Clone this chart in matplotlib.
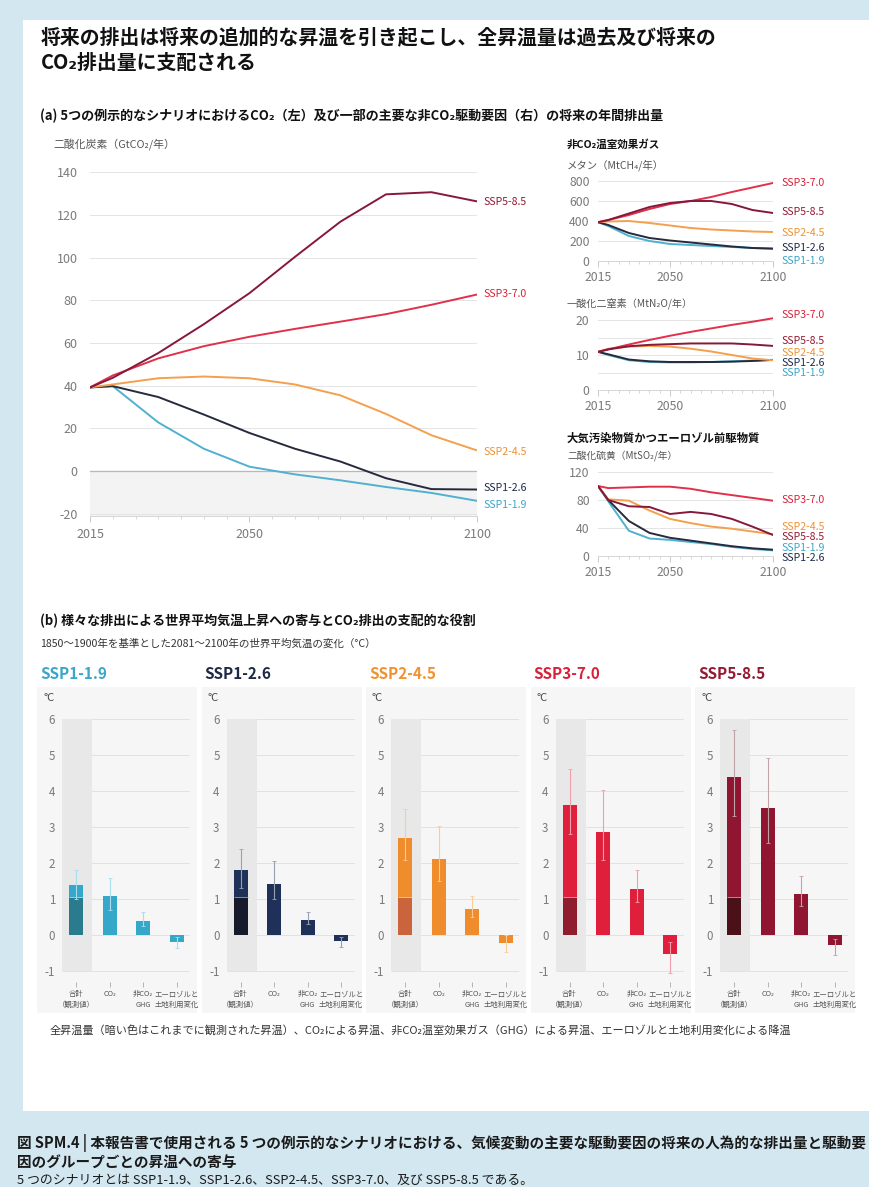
import matplotlib
matplotlib.use("Agg")
import matplotlib.pyplot as plt
from matplotlib.patches import Rectangle
from matplotlib.ticker import MultipleLocator

plt.rcParams['font.family'] = ['Noto Sans CJK JP', 'DejaVu Sans']
plt.rcParams['axes.unicode_minus'] = False

W, H = 869, 1187

# --- data ---
scenarios = ['SSP1-1.9', 'SSP1-2.6', 'SSP2-4.5', 'SSP3-7.0', 'SSP5-8.5']
years = [2015, 2020, 2030, 2040, 2050, 2060, 2070, 2080, 2090, 2100]

co2 = [
    [39.2, 39.8, 22.8, 10.5, 2.1, -1.5, -4.3, -7.4, -10.2, -13.9],
    [39.2, 39.8, 34.7, 26.5, 17.9, 10.5, 4.5, -3.3, -8.4, -8.6],
    [39.2, 40.6, 43.5, 44.3, 43.5, 40.6, 35.5, 26.8, 16.8, 9.7],
    [39.2, 44.8, 52.8, 58.5, 62.9, 66.6, 70.0, 73.5, 77.9, 82.7],
    [39.2, 43.7, 55.3, 68.8, 83.3, 100.3, 116.8, 129.6, 130.6, 126.3],
]
methane = [
    [388, 350, 250, 200, 170, 160, 150, 140, 130, 120],
    [388, 360, 280, 230, 205, 185, 165, 145, 130, 125],
    [388, 395, 400, 380, 355, 330, 315, 305, 295, 290],
    [388, 410, 460, 520, 570, 600, 640, 690, 735, 780],
    [388, 410, 475, 540, 580, 600, 600, 570, 510, 480],
]
n2o = [
    [10.9, 10.0, 8.5, 8.0, 7.9, 7.9, 8.0, 8.2, 8.4, 8.6],
    [10.9, 10.2, 8.7, 8.2, 8.0, 8.0, 8.0, 8.1, 8.3, 8.6],
    [10.9, 11.8, 12.4, 12.6, 12.4, 11.8, 11.0, 10.0, 9.0, 8.5],
    [10.9, 11.6, 13.0, 14.3, 15.5, 16.6, 17.6, 18.6, 19.5, 20.5],
    [10.9, 11.6, 12.5, 12.9, 13.1, 13.3, 13.3, 13.3, 13.0, 12.6],
]
so2 = [
    [100, 78, 36, 25, 23, 20, 17, 13, 10, 8],
    [100, 80, 50, 33, 26, 22, 18, 14, 11, 9],
    [100, 81, 79, 65, 53, 47, 42, 39, 35, 31],
    [100, 97, 98, 99, 99, 96, 91, 87, 83, 79],
    [100, 80, 71, 70, 60, 63, 60, 53, 42, 30],
]

bar_labels = ['合計\n（観測値）', 'CO₂', '非CO₂\nGHG', 'エーロゾルと\n土地利用変化']
observed = 1.07
bar_central = [
    [1.4, 1.08, 0.40, -0.18],
    [1.8, 1.42, 0.42, -0.16],
    [2.7, 2.12, 0.74, -0.22],
    [3.6, 2.85, 1.28, -0.52],
    [4.4, 3.52, 1.15, -0.27],
]
bar_low = [
    [1.0, 0.7, 0.25, -0.37],
    [1.3, 1.0, 0.30, -0.34],
    [2.1, 1.5, 0.50, -0.46],
    [2.8, 2.08, 0.92, -1.06],
    [3.3, 2.55, 0.80, -0.56],
]
bar_high = [
    [1.8, 1.6, 0.63, -0.05],
    [2.4, 2.07, 0.65, -0.05],
    [3.5, 3.03, 1.08, 0.0],
    [4.6, 4.03, 1.82, -0.2],
    [5.7, 4.92, 1.65, -0.1],
]

# --- styles ---
line_colors = ['#4fb1cf', '#262a3c', '#f4a04c', '#e0304a', '#86183a']
title_colors = ['#3aa6c8', '#1e2a45', '#f0922f', '#d9213a', '#931a32']
bar_colors = ['#35a7c9', '#1f3158', '#ef8c2c', '#df1f3b', '#8f1530']
dark_colors = ['#2b7b8e', '#171a2b', '#c9643d', '#8f1d2d', '#4a1119']
err_colors = ['#a9dcec', '#9aa0b4', '#f8cc9c', '#f0a0aa', '#c0a4a8']

fig = plt.figure(figsize=(W / 100, H / 100), dpi=100)
fig.patch.set_facecolor('#d3e7f1')
fig.patches.append(Rectangle((23 / W, 1 - 1111 / H), (W - 23) / W, (1111 - 20) / H,
                             transform=fig.transFigure, facecolor='white', edgecolor='none', zorder=-3))


def ax_px(x0, y0, x1, y1):
    return fig.add_axes([x0 / W, 1 - y1 / H, (x1 - x0) / W, (y1 - y0) / H])


def txt(x, y, s, **kw):
    kw.setdefault('va', 'center')
    return fig.text(x / W, 1 - y / H, s, **kw)


# --- titles ---
txt(41, 38, '将来の排出は将来の追加的な昇温を引き起こし、全昇温量は過去及び将来の',
    fontsize=14.3, fontweight='bold', color='#111111')
txt(41, 62, 'CO₂排出量に支配される', fontsize=14.3, fontweight='bold', color='#111111')
txt(40, 116, '(a) 5つの例示的なシナリオにおけるCO₂（左）及び一部の主要な非CO₂駆動要因（右）の将来の年間排出量',
    fontsize=9.4, fontweight='bold', color='#111111')


def style_line_axes(ax, ylim, yticks, ylabsize):
    ax.set_xlim(2015, 2100)
    ax.set_ylim(*ylim)
    ax.set_yticks(yticks)
    ax.set_xticks([2015, 2050, 2100])
    ax.xaxis.set_minor_locator(MultipleLocator(5))
    for s in ['top', 'right', 'left']:
        ax.spines[s].set_visible(False)
    ax.spines['bottom'].set_color('#d0d0d0')
    ax.spines['bottom'].set_linewidth(0.6)
    ax.grid(axis='y', color='#e4e4e4', linewidth=0.7, zorder=0)
    ax.set_axisbelow(True)
    ax.tick_params(axis='y', length=0, pad=6, labelsize=ylabsize, labelcolor='#7a7a7a')
    ax.tick_params(axis='x', which='major', length=4, width=0.6, color='#c0c0c0',
                   pad=3, labelsize=ylabsize, labelcolor='#7a7a7a')
    ax.tick_params(axis='x', which='minor', length=2, width=0.5, color='#c8c8c8')
    ax.set_facecolor('none')


def draw_lines(ax, series, label_pos, fs, dx):
    # label_pos: y position (data units) of each scenario's end label, in scenario order
    for i, name in enumerate(scenarios):
        ax.plot(years, series[i], color=line_colors[i], lw=1.4, zorder=3, solid_capstyle='round')
        ax.annotate(name, xy=(1, label_pos[i]), xycoords=('axes fraction', 'data'),
                    xytext=(dx, 0), textcoords='offset points', va='center', ha='left',
                    fontsize=fs, color=title_colors[i], annotation_clip=False)


# --- main CO2 panel ---
ax = ax_px(90, 170, 477, 516)
style_line_axes(ax, (-21, 141), range(-20, 141, 20), 9)
ax.tick_params(axis='y', pad=9)
ax.tick_params(axis='x', pad=5)
ax.axhspan(-21, 0, color='#f3f3f3', zorder=0.5)
ax.axhline(0, color='#b8b8b8', lw=0.9, zorder=1)
draw_lines(ax, co2, [-16, -8, 9, 83, 126], 7.6, 5)
txt(53, 145, '二酸化炭素（GtCO₂/年）', fontsize=7.8, color='#555555')

# --- methane ---
txt(567, 145, '非CO₂温室効果ガス', fontsize=7.6, fontweight='bold', color='#111111')
txt(567, 165, 'メタン（MtCH₄/年）', fontsize=7.5, color='#555555')
ax = ax_px(598, 181, 773, 261)
style_line_axes(ax, (0, 800), [0, 200, 400, 600, 800], 8.8)
draw_lines(ax, methane, [0, 130, 280, 780, 490], 7.6, 6)

# --- N2O ---
txt(567, 303, '一酸化二窒素（MtN₂O/年）', fontsize=7.3, color='#555555')
ax = ax_px(598, 316.5, 773, 390)
style_line_axes(ax, (0, 21), [0, 10, 20], 8.8)
ax.yaxis.set_minor_locator(MultipleLocator(5))
ax.tick_params(axis='y', which='minor', length=0)
ax.grid(axis='y', which='minor', color='#e4e4e4', linewidth=0.7, zorder=0)
draw_lines(ax, n2o, [4.9, 7.7, 10.6, 21.4, 14], 7.6, 6)

# --- SO2 ---
txt(567, 438, '大気汚染物質かつエーロゾル前駆物質', fontsize=8.2, fontweight='bold', color='#111111')
txt(567, 456, '二酸化硫黄（MtSO₂/年）', fontsize=7, color='#555555')
ax = ax_px(598, 472, 773, 556)
style_line_axes(ax, (0, 120), [0, 40, 80, 120], 8.8)
draw_lines(ax, so2, [11, -3, 41, 80, 27], 7.6, 6)

# --- panel (b) ---
txt(40, 621, '(b) 様々な排出による世界平均気温上昇への寄与とCO₂排出の支配的な役割',
    fontsize=9.4, fontweight='bold', color='#111111')
txt(40, 644, '1850～1900年を基準とした2081～2100年の世界平均気温の変化（°C）',
    fontsize=7.6, color='#333333')

xs = list(range(len(bar_labels)))
for i, name in enumerate(scenarios):
    left = 37 + i * 164.5
    fig.patches.append(Rectangle((left / W, 1 - 1013 / H), 160 / W, (1013 - 687) / H,
                                 transform=fig.transFigure, facecolor='#f6f6f6',
                                 edgecolor='none', zorder=-2))
    txt(left + 3, 674, name, fontsize=11, fontweight='bold', color=title_colors[i])
    txt(left + 6, 698, '°C', fontsize=8, color='#444444')
    ax = ax_px(left + 25, 719, left + 153, 982)
    ax.set_facecolor('none')
    ax.set_xlim(-0.42, 3.4)
    ax.set_ylim(-1.3, 6)
    ax.hlines(range(-1, 7), -0.42, 3.4, color='#e2e2e2', lw=0.7, zorder=0)
    ax.fill_between([-0.45, 0.48], -1, 6, color='#e8e8e8', zorder=0.5, lw=0)
    ax.bar(xs, bar_central[i], width=0.42, color=bar_colors[i], zorder=2)
    ax.bar([0], [observed], width=0.42, color=dark_colors[i], zorder=2.1)
    ax.hlines(observed, -0.21, 0.21, color=err_colors[i], lw=0.6, zorder=2.2)
    lo = [c - l for c, l in zip(bar_central[i], bar_low[i])]
    hi = [h - c for c, h in zip(bar_central[i], bar_high[i])]
    ax.errorbar(xs, bar_central[i], yerr=[lo, hi], fmt='none', ecolor=err_colors[i],
                elinewidth=0.8, capsize=1.2, capthick=0.6, zorder=3)
    for s in ax.spines.values():
        s.set_visible(False)
    ax.set_yticks(range(-1, 7))
    ax.set_yticklabels([str(v) for v in range(-1, 7)])
    ax.set_xticks(xs)
    ax.set_xticklabels(bar_labels, fontsize=5.3, color='#555555', linespacing=1.45)
    ax.tick_params(axis='y', length=0, pad=5, labelsize=8.3, labelcolor='#7a7a7a')
    ax.tick_params(axis='x', length=3.5, width=0.6, color='#aaaaaa', pad=2.5)

txt(50, 1030, '全昇温量（暗い色はこれまでに観測された昇温）、CO₂による昇温、非CO₂温室効果ガス（GHG）による昇温、エーロゾルと土地利用変化による降温',
    fontsize=8, color='#333333')

# --- caption ---
txt(17, 1143, '図 SPM.4 | 本報告書で使用される 5 つの例示的なシナリオにおける、気候変動の主要な駆動要因の将来の人為的な排出量と駆動要',
    fontsize=10.5, fontweight='bold', color='#1a1a1a')
txt(17, 1162, '因のグループごとの昇温への寄与', fontsize=10.5, fontweight='bold', color='#1a1a1a')
txt(17, 1180, '5 つのシナリオとは SSP1-1.9、SSP1-2.6、SSP2-4.5、SSP3-7.0、及び SSP5-8.5 である。',
    fontsize=9.3, color='#1a1a1a')

fig.savefig('out.png', dpi=100, facecolor=fig.get_facecolor())
